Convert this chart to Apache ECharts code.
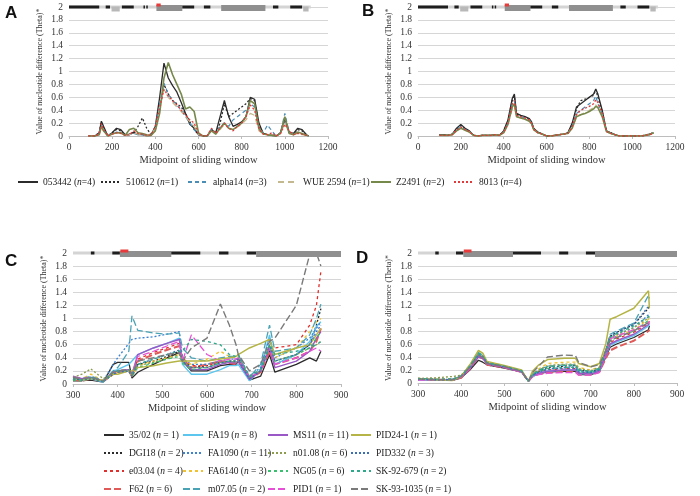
<!DOCTYPE html>
<html><head><meta charset="utf-8">
<script src="https://cdn.jsdelivr.net/npm/echarts@6/dist/echarts.min.js"></script>
<style>html,body{margin:0;padding:0;background:#fff}#c{width:700px;height:496px}</style>
</head><body><div id="c"></div>
<script>
// ---------- Panel A / B data ----------
const namesA = ['053442','510612','alpha14','WUE 2594','Z2491','8013'];
const nA = [4,1,3,1,2,4];
const xA = [90,120,140,150,160,180,200,220,240,260,280,300,320,340,360,380,400,420,440,460,480,500,520,540,560,580,600,620,640,660,680,700,720,740,760,780,800,820,840,860,880,900,920,940,960,980,1000,1020,1040,1060,1080,1100,1110];
const A_053442 = [0,0,0.05,0.23,0.15,0,0.05,0.12,0.1,0.02,0.03,0.06,0.02,0.02,0,0.01,0.15,0.6,1.13,0.9,0.78,0.68,0.52,0.35,0.18,0.12,0.02,0,0,0.1,0.05,0.3,0.55,0.3,0.15,0.18,0.22,0.3,0.6,0.57,0.2,0.04,0.02,0.01,0,0.05,0.28,0.06,0.04,0.12,0.1,0.02,0];
const A_510612 = [0,0,0.05,0.22,0.12,0,0.05,0.1,0.08,0.01,0.02,0.05,0.15,0.28,0.12,0.02,0.1,0.4,0.8,0.65,0.55,0.5,0.45,0.35,0.22,0.1,0.02,0,0,0.1,0.03,0.2,0.5,0.3,0.35,0.4,0.45,0.5,0.58,0.55,0.15,0.04,0.02,0.01,0,0.05,0.25,0.05,0.03,0.1,0.08,0.02,0];
const A_alpha14 = [0,0,0.03,0.18,0.1,0,0.04,0.06,0.05,0.01,0.02,0.04,0.02,0.02,0,0.01,0.12,0.5,0.82,0.65,0.55,0.48,0.4,0.3,0.2,0.1,0.02,0,0,0.1,0.03,0.15,0.2,0.15,0.25,0.3,0.35,0.4,0.5,0.45,0.12,0.05,0.17,0.08,0,0.05,0.35,0.06,0.02,0.05,0.03,0.01,0];
const A_WUE2594 = [0,0,0.02,0.15,0.08,0,0.03,0.05,0.04,0.01,0.02,0.05,0.03,0.02,0,0.01,0.12,0.42,0.72,0.6,0.52,0.45,0.38,0.3,0.22,0.15,0.03,0,0,0.1,0.03,0.1,0.18,0.12,0.1,0.14,0.18,0.25,0.35,0.32,0.08,0.03,0.02,0.02,0,0.04,0.2,0.05,0.02,0.04,0.02,0.01,0];
const A_Z2491 = [0,0,0.02,0.15,0.08,0,0.03,0.05,0.05,0.01,0.1,0.12,0.05,0.04,0.02,0.01,0.08,0.35,0.9,1.14,0.95,0.8,0.65,0.42,0.45,0.38,0.05,0,0,0.08,0.03,0.12,0.2,0.12,0.1,0.15,0.2,0.3,0.55,0.5,0.12,0.03,0.02,0.01,0,0.04,0.3,0.04,0.02,0.06,0.04,0.01,0];
const A_8013 = [0,0,0.03,0.19,0.1,0,0.03,0.05,0.04,0.01,0.02,0.08,0.04,0.03,0.01,0.02,0.15,0.45,0.72,0.62,0.55,0.48,0.4,0.32,0.25,0.2,0.03,0,0,0.12,0.04,0.12,0.2,0.12,0.08,0.15,0.2,0.3,0.48,0.4,0.1,0.03,0.02,0.05,0,0.04,0.18,0.08,0.02,0.04,0.03,0.01,0];

const xB = [100,120,140,160,180,200,220,240,260,280,300,320,340,360,380,400,420,440,450,460,480,500,520,530,540,560,580,600,620,640,660,680,700,720,740,760,780,800,820,830,840,860,880,900,920,940,960,980,1000,1020,1040,1060,1080,1100];
const B_053442 = [0.02,0.02,0.01,0.03,0.12,0.18,0.12,0.08,0.01,0,0.01,0.01,0.01,0.02,0.01,0.08,0.25,0.58,0.65,0.35,0.32,0.3,0.27,0.22,0.12,0.06,0.03,0,0,0.01,0.02,0.03,0.05,0.2,0.45,0.5,0.55,0.6,0.65,0.73,0.65,0.4,0.08,0.05,0.02,0,0,0,0,0,0,0.01,0.03,0.05];
const B_510612 = [0.02,0.02,0.01,0.03,0.1,0.16,0.11,0.07,0.01,0,0.01,0.01,0.01,0.02,0.01,0.07,0.23,0.55,0.62,0.34,0.31,0.29,0.26,0.21,0.11,0.06,0.03,0,0,0.01,0.02,0.03,0.05,0.18,0.42,0.55,0.57,0.6,0.63,0.72,0.6,0.38,0.08,0.05,0.02,0,0,0,0,0,0,0.01,0.03,0.05];
const B_alpha14 = [0.01,0.01,0.01,0.02,0.1,0.15,0.1,0.07,0.01,0,0.01,0.01,0.01,0.02,0.01,0.06,0.2,0.5,0.55,0.32,0.3,0.28,0.25,0.2,0.1,0.05,0.03,0,0,0.01,0.02,0.03,0.04,0.16,0.35,0.4,0.45,0.5,0.55,0.62,0.5,0.35,0.07,0.04,0.02,0,0,0,0,0,0,0.01,0.02,0.04];
const B_WUE2594 = [0.01,0.01,0.01,0.02,0.08,0.13,0.09,0.06,0.01,0,0.01,0.01,0.01,0.02,0.01,0.05,0.18,0.42,0.46,0.3,0.28,0.26,0.23,0.19,0.1,0.05,0.03,0,0,0.01,0.02,0.03,0.04,0.14,0.3,0.33,0.36,0.4,0.44,0.48,0.45,0.32,0.07,0.04,0.02,0,0,0,0,0,0,0.01,0.02,0.04];
const B_Z2491 = [0.01,0.01,0.01,0.02,0.08,0.12,0.09,0.06,0.01,0,0.01,0.01,0.01,0.02,0.01,0.05,0.18,0.45,0.5,0.3,0.28,0.26,0.23,0.19,0.1,0.05,0.03,0,0,0.01,0.02,0.03,0.04,0.12,0.3,0.33,0.35,0.38,0.42,0.46,0.44,0.3,0.07,0.04,0.02,0,0,0,0,0,0,0.01,0.02,0.05];
const B_8013 = [0.01,0.01,0.01,0.02,0.09,0.14,0.1,0.07,0.01,0,0.01,0.01,0.01,0.02,0.01,0.06,0.2,0.5,0.55,0.32,0.3,0.28,0.25,0.2,0.1,0.05,0.03,0,0,0.01,0.02,0.03,0.04,0.15,0.33,0.4,0.43,0.46,0.5,0.56,0.52,0.35,0.07,0.04,0.02,0,0,0,0,0,0,0.01,0.02,0.04];

// ---------- Panel C / D data ----------
const namesC = ['35/02','DGI18','e03.04','F62','FA19','FA1090','FA6140','m07.05','MS11','n01.08','NG05','PID1','PID24-1','PID332','SK-92-679','SK-93-1035'];
const nC = [1,2,4,6,8,11,3,2,11,6,6,1,1,3,2,1];
const xC = [300,320,340,368,390,400,425,432,445,480,510,538,545,565,600,630,650,665,670,695,720,740,752,800,830,845,855];
const C_3502 = [0.05,0.05,0.06,0.03,0.3,0.33,0.33,0.09,0.18,0.3,0.4,0.48,0.35,0.2,0.2,0.28,0.3,0.3,0.35,0.06,0.12,0.45,0.18,0.3,0.4,0.35,0.5];
const C_DGI18 = [0.08,0.06,0.1,0.04,0.15,0.2,0.22,0.12,0.3,0.35,0.42,0.5,0.38,0.25,0.28,0.33,0.35,0.35,0.4,0.08,0.2,0.5,0.3,0.45,0.6,0.9,1.15];
const C_e0304 = [0.08,0.06,0.1,0.04,0.15,0.18,0.2,0.12,0.38,0.48,0.55,0.62,0.4,0.28,0.28,0.35,0.33,0.32,0.38,0.1,0.2,0.55,0.55,0.6,0.9,1.2,1.72];
const C_F62 = [0.07,0.05,0.08,0.04,0.15,0.18,0.2,0.12,0.35,0.45,0.52,0.58,0.38,0.25,0.3,0.35,0.32,0.3,0.35,0.08,0.18,0.5,0.3,0.4,0.5,0.65,0.85];
const C_FA19 = [0.1,0.06,0.08,0.03,0.2,0.22,0.3,0.35,0.45,0.55,0.62,0.7,0.3,0.15,0.15,0.22,0.28,0.28,0.3,0.05,0.22,0.75,0.3,0.45,0.65,0.88,0.95];
const C_FA1090 = [0.1,0.08,0.1,0.05,0.3,0.4,0.62,0.68,0.7,0.72,0.76,0.8,0.38,0.3,0.3,0.35,0.38,0.38,0.42,0.12,0.25,0.7,0.4,0.55,0.7,0.85,0.95];
const C_FA6140 = [0.1,0.08,0.15,0.05,0.15,0.2,0.22,0.12,0.28,0.35,0.4,0.45,0.35,0.3,0.38,0.5,0.42,0.4,0.42,0.12,0.2,0.55,0.4,0.55,0.8,0.95,1.0];
const C_m0705 = [0.1,0.08,0.12,0.05,0.2,0.25,0.5,1.04,0.82,0.78,0.76,0.78,0.55,0.4,0.35,0.4,0.42,0.42,0.45,0.1,0.3,0.9,0.5,0.55,0.75,1.0,1.22];
const C_MS11 = [0.12,0.08,0.1,0.04,0.18,0.2,0.22,0.15,0.45,0.55,0.62,0.68,0.35,0.22,0.22,0.3,0.33,0.32,0.35,0.07,0.2,0.55,0.25,0.35,0.5,0.7,0.8];
const C_n0108 = [0.1,0.15,0.23,0.08,0.18,0.2,0.2,0.12,0.28,0.33,0.38,0.45,0.35,0.25,0.25,0.33,0.35,0.33,0.38,0.1,0.2,0.6,0.35,0.45,0.55,0.6,0.65];
const C_NG05 = [0.06,0.05,0.08,0.04,0.15,0.18,0.2,0.12,0.25,0.32,0.38,0.42,0.32,0.22,0.25,0.32,0.35,0.35,0.4,0.1,0.22,0.55,0.35,0.45,0.55,0.7,0.8];
const C_PID1 = [0.1,0.08,0.1,0.04,0.18,0.2,0.22,0.15,0.42,0.5,0.58,0.65,0.35,0.75,0.45,0.35,0.38,0.38,0.4,0.1,0.2,0.55,0.3,0.4,0.5,0.55,0.5];
const C_PID241 = [0.08,0.06,0.08,0.05,0.15,0.15,0.2,0.2,0.25,0.28,0.32,0.35,0.35,0.35,0.35,0.38,0.4,0.42,0.45,0.55,0.62,0.68,0.45,0.55,0.6,0.75,0.85];
const C_PID332 = [0.08,0.06,0.08,0.04,0.15,0.18,0.2,0.12,0.3,0.38,0.45,0.52,0.35,0.25,0.25,0.32,0.35,0.35,0.38,0.08,0.2,0.6,0.35,0.45,0.6,0.8,0.9];
const C_SK92679 = [0.08,0.06,0.1,0.04,0.18,0.2,0.22,0.15,0.3,0.38,0.45,0.5,0.5,0.68,0.65,0.6,0.45,0.42,0.45,0.12,0.22,0.6,0.45,0.5,0.55,0.6,0.65];
const C_SK931035 = [0.1,0.08,0.1,0.05,0.18,0.2,0.22,0.15,0.35,0.4,0.45,0.48,0.35,0.55,0.7,1.22,0.9,0.6,0.45,0.2,0.3,0.65,0.7,1.2,1.98,2.0,1.8];

const xD = [300,340,380,400,420,440,450,460,500,540,548,556,565,580,600,640,665,672,700,720,735,745,760,800,834,836];
const D_3502 = [0.06,0.05,0.04,0.08,0.2,0.35,0.32,0.28,0.23,0.17,0.1,0.03,0.1,0.14,0.17,0.18,0.18,0.13,0.13,0.17,0.4,0.55,0.6,0.7,0.82,0.88];
const D_DGI18 = [0.05,0.06,0.05,0.1,0.25,0.42,0.4,0.3,0.25,0.18,0.1,0.03,0.12,0.18,0.24,0.26,0.27,0.2,0.17,0.22,0.5,0.72,0.78,0.9,1.15,1.18];
const D_e0304 = [0.07,0.05,0.06,0.1,0.25,0.44,0.4,0.3,0.25,0.18,0.1,0.03,0.12,0.17,0.2,0.22,0.22,0.16,0.15,0.2,0.45,0.62,0.68,0.78,0.92,0.95];
const D_F62 = [0.06,0.05,0.05,0.08,0.22,0.4,0.38,0.28,0.24,0.17,0.1,0.03,0.1,0.14,0.16,0.18,0.18,0.13,0.13,0.17,0.38,0.5,0.55,0.65,0.8,0.82];
const D_FA19 = [0.05,0.04,0.05,0.1,0.24,0.45,0.42,0.3,0.25,0.18,0.1,0.03,0.1,0.15,0.18,0.2,0.2,0.14,0.14,0.18,0.42,0.58,0.63,0.73,0.88,0.9];
const D_FA1090 = [0.06,0.05,0.05,0.1,0.26,0.44,0.41,0.31,0.26,0.19,0.1,0.03,0.12,0.17,0.22,0.24,0.25,0.18,0.16,0.2,0.48,0.7,0.75,0.85,1.05,1.08];
const D_FA6140 = [0.07,0.06,0.05,0.1,0.25,0.46,0.42,0.31,0.26,0.19,0.1,0.03,0.15,0.22,0.3,0.32,0.32,0.24,0.2,0.25,0.5,0.68,0.72,0.82,0.98,1.0];
const D_m0705 = [0.06,0.05,0.06,0.11,0.27,0.47,0.43,0.32,0.26,0.19,0.1,0.03,0.13,0.2,0.26,0.28,0.28,0.2,0.18,0.23,0.5,0.75,0.8,0.92,1.35,1.3];
const D_MS11 = [0.05,0.05,0.04,0.09,0.22,0.4,0.38,0.29,0.24,0.17,0.1,0.03,0.11,0.15,0.18,0.2,0.2,0.15,0.14,0.18,0.42,0.6,0.65,0.75,0.9,0.92];
const D_n0108 = [0.07,0.08,0.1,0.12,0.27,0.46,0.43,0.32,0.26,0.19,0.1,0.03,0.14,0.2,0.27,0.29,0.29,0.22,0.19,0.24,0.5,0.7,0.74,0.85,1.0,1.02];
const D_NG05 = [0.06,0.05,0.06,0.1,0.25,0.45,0.42,0.31,0.25,0.18,0.1,0.03,0.12,0.18,0.22,0.24,0.24,0.17,0.16,0.2,0.46,0.65,0.7,0.8,0.96,0.98];
const D_PID1 = [0.05,0.04,0.05,0.09,0.22,0.42,0.4,0.3,0.24,0.17,0.1,0.03,0.1,0.13,0.15,0.16,0.16,0.12,0.12,0.16,0.45,0.68,0.72,0.82,0.93,0.95];
const D_PID241 = [0.06,0.05,0.04,0.1,0.28,0.5,0.46,0.33,0.27,0.2,0.11,0.03,0.18,0.28,0.36,0.38,0.38,0.3,0.25,0.3,0.6,0.98,1.02,1.15,1.42,1.15];
const D_PID332 = [0.06,0.05,0.05,0.1,0.25,0.44,0.41,0.31,0.25,0.18,0.1,0.03,0.12,0.17,0.21,0.23,0.23,0.17,0.16,0.2,0.48,0.72,0.78,0.9,1.18,1.18];
const D_SK92679 = [0.07,0.06,0.06,0.11,0.26,0.46,0.42,0.31,0.26,0.19,0.1,0.03,0.13,0.19,0.25,0.27,0.27,0.2,0.18,0.22,0.5,0.7,0.76,0.88,1.02,1.05];
const D_SK931035 = [0.06,0.05,0.05,0.1,0.24,0.42,0.4,0.3,0.25,0.18,0.1,0.03,0.16,0.26,0.4,0.43,0.42,0.32,0.25,0.28,0.5,0.65,0.7,0.8,0.93,0.95];

// gene-structure bar along the top (start, end, kind)
const segAB = [[0,1120,3],[0,140,0],[170,190,0],[197,235,4],[245,300,0],[345,352,0],[358,365,0],[405,525,1],[405,425,2],[525,580,0],[625,655,0],[705,910,1],[945,970,0],[1025,1080,0],[1085,1110,4]];
const segCD = [[300,900,3],[340,348,0],[388,405,0],[405,520,1],[406,424,2],[520,585,0],[627,648,0],[689,710,0],[710,900,1]];

const ticksY = {min:0, max:2, interval:0.2};
const ticksAB = {min:0, max:1200, interval:200};
const ticksCD = {min:300, max:900, interval:100};

// ---------- styles ----------
const stA = [
  {color:'#2b2b2b', type:'solid', width:1.3},
  {color:'#2b2b2b', type:[2,2], width:1.3},
  {color:'#4a8db5', type:[4,3], width:1.2},
  {color:'#c2b98e', type:[6,4], width:1.3},
  {color:'#76884a', type:'solid', width:1.6},
  {color:'#e23a3a', type:[2,2], width:1.3}
];
const stC = [
  {color:'#2b2b2b', type:'solid', width:1.3},
  {color:'#2b2b2b', type:[2,2], width:1.3},
  {color:'#e0302e', type:[3,3], width:1.3},
  {color:'#e05a5a', type:[7,3], width:2},
  {color:'#5cc6ee', type:'solid', width:1.4},
  {color:'#3b82d0', type:[2,2], width:1.3},
  {color:'#f2c22e', type:[3,3], width:1.3},
  {color:'#4aa2b5', type:[7,3], width:1.3},
  {color:'#9a58c6', type:'solid', width:1.4},
  {color:'#8c9c4e', type:[2,2], width:1.3},
  {color:'#38c070', type:[3,3], width:1.3},
  {color:'#e650d6', type:[7,3], width:1.3},
  {color:'#b5b446', type:'solid', width:1.5},
  {color:'#3a6fb8', type:[2,2], width:1.3},
  {color:'#2fa88c', type:[3,3], width:1.3},
  {color:'#7a7a7a', type:[7,3], width:1.4}
];
const segStyle = {
  0:{fill:'#1e1e1e', h:3, off:0},
  1:{fill:'#8f8f8f', h:6, off:1},
  2:{fill:'#e83a3a', h:3, off:-2},
  3:{fill:'#d4d4d4', h:3, off:0},
  4:{fill:'#b8b8b8', h:5, off:2}
};

const serif = 'Liberation Serif';
const dataA = [A_053442,A_510612,A_alpha14,A_WUE2594,A_Z2491,A_8013];
const dataB = [B_053442,B_510612,B_alpha14,B_WUE2594,B_Z2491,B_8013];
const dataC = [C_3502,C_DGI18,C_e0304,C_F62,C_FA19,C_FA1090,C_FA6140,C_m0705,C_MS11,C_n0108,C_NG05,C_PID1,C_PID241,C_PID332,C_SK92679,C_SK931035];
const dataD = [D_3502,D_DGI18,D_e0304,D_F62,D_FA19,D_FA1090,D_FA6140,D_m0705,D_MS11,D_n0108,D_NG05,D_PID1,D_PID241,D_PID332,D_SK92679,D_SK931035];

const grids = [
  {left:69, top:7, width:259, height:129},
  {left:418, top:7, width:257, height:129},
  {left:73, top:253, width:268, height:131},
  {left:418, top:253, width:259, height:130}
];
function xAx(i, t){
  return {type:'value', gridIndex:i, min:t.min, max:t.max, interval:t.interval,
    name:'Midpoint of sliding window', nameLocation:'middle', nameGap:19,
    nameTextStyle:{fontFamily:serif, fontSize:10.5, color:'#333'},
    axisLine:{lineStyle:{color:'#bdbdbd'}}, axisTick:{show:true, length:3, lineStyle:{color:'#bdbdbd'}},
    axisLabel:{fontFamily:serif, fontSize:9.5, color:'#333', margin:6, formatter:v => String(v)},
    splitLine:{show:false}};
}
function yAx(i){
  return {type:'value', gridIndex:i, min:ticksY.min, max:ticksY.max, interval:ticksY.interval,
    name:'Value of nucleotide difference (Theta)*', nameLocation:'middle', nameGap:25,
    nameTextStyle:{fontFamily:serif, fontSize:8, color:'#333'},
    axisLine:{show:false}, axisTick:{show:false},
    axisLabel:{fontFamily:serif, fontSize:9.5, color:'#333', margin:6},
    splitLine:{lineStyle:{color:'#d6d6d6', width:1}}};
}
const series = [];
function addLines(names, xs, data, styles, gi){
  names.forEach((nm, k) => {
    series.push({type:'line', name:nm, xAxisIndex:gi, yAxisIndex:gi, symbol:'none', silent:true,
      data: xs.map((x, j) => [x, data[k][j]]),
      lineStyle:{color:styles[k].color, type:styles[k].type, width:styles[k].width},
      itemStyle:{color:styles[k].color}, z:2});
  });
}
function renderSeg(params, api){
  const st = segStyle[api.value(2)];
  const a = api.coord([api.value(0), 2]);
  const b = api.coord([api.value(1), 2]);
  return {type:'rect', shape:{x:a[0], y:a[1]-st.h/2+st.off, width:b[0]-a[0], height:st.h}, style:{fill:st.fill}};
}
function addSeg(segs, gi){
  series.push({type:'custom', name:'_bar'+gi, xAxisIndex:gi, yAxisIndex:gi, silent:true, z:5,
    renderItem:renderSeg, encode:{x:[0,1], y:3}, data:segs.map(s => [s[0], s[1], s[2], 2])});
}
addLines(namesA, xA, dataA, stA, 0);
addLines(namesA, xB, dataB, stA, 1);
addLines(namesC, xC, dataC, stC, 2);
addLines(namesC, xD, dataD, stC, 3);
addSeg(segAB, 0); addSeg(segAB, 1); addSeg(segCD, 2); addSeg(segCD, 3);

const richN = {i:{fontFamily:serif, fontStyle:'italic', fontSize:9.5, color:'#222'}};
const legends = [];
const row1Left = [17, 100, 187, 277, 370, 453];
namesA.forEach((nm, k) => {
  legends.push({left:row1Left[k], top:177, padding:0, data:[nm], itemWidth:20, itemHeight:10, itemGap:0,
    selectedMode:false, itemStyle:{opacity:0},
    textStyle:{fontFamily:serif, fontSize:9.5, color:'#222', rich:richN},
    formatter: n => n + ' ({i|n}=' + nA[k] + ')'});
});
const colLeft = [103, 182, 267, 350];
for (let c = 0; c < 4; c++){
  const items = namesC.slice(c*4, c*4+4);
  legends.push({left:colLeft[c], top:429, height:67, padding:0, orient:'vertical', data:items,
    itemWidth:20, itemHeight:12, itemGap:6,
    selectedMode:false, itemStyle:{opacity:0},
    textStyle:{fontFamily:serif, fontSize:9.5, color:'#222', lineHeight:12, rich:richN},
    formatter: n => n + ' ({i|n} = ' + nC[namesC.indexOf(n)] + ')'});
}

const labelStyle = {fontFamily:'Liberation Sans', fontWeight:'bold', fontSize:17, fill:'#111'};
const option = {
  animation:false,
  backgroundColor:'#fff',
  grid:grids,
  xAxis:[xAx(0,ticksAB), xAx(1,ticksAB), xAx(2,ticksCD), xAx(3,ticksCD)],
  yAxis:[yAx(0), yAx(1), yAx(2), yAx(3)],
  legend:legends,
  series:series,
  graphic:[
    {type:'text', left:5, top:5, style:Object.assign({text:'A'}, labelStyle)},
    {type:'text', left:362, top:3, style:Object.assign({text:'B'}, labelStyle)},
    {type:'text', left:5, top:253, style:Object.assign({text:'C'}, labelStyle)},
    {type:'text', left:356, top:250, style:Object.assign({text:'D'}, labelStyle)}
  ]
};
const chart = echarts.init(document.getElementById('c'), null, {renderer:'canvas'});
chart.setOption(option);
</script></body></html>
